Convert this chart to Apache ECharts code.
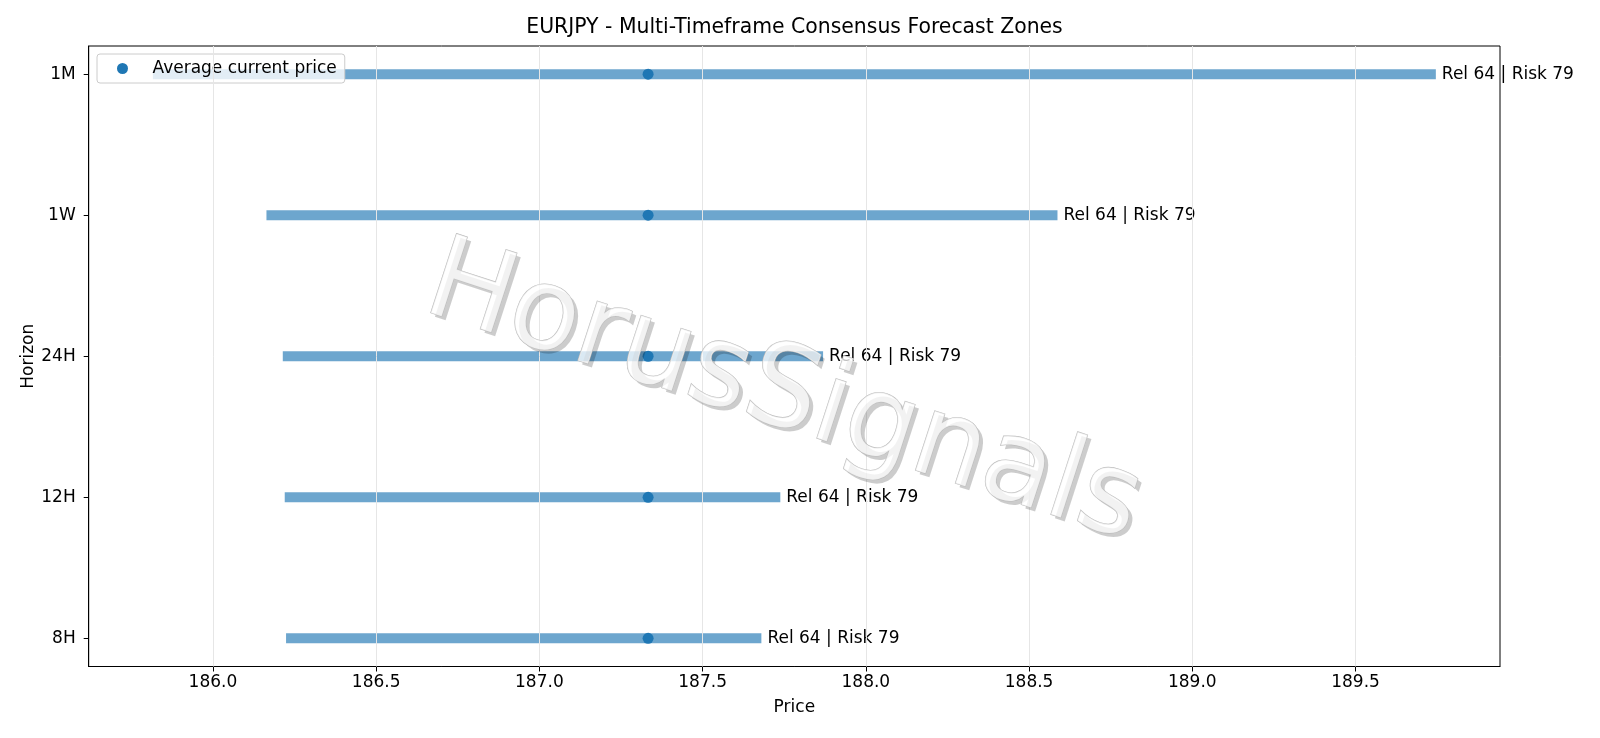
<!DOCTYPE html>
<html>
<head>
<meta charset="utf-8">
<title>EURJPY - Multi-Timeframe Consensus Forecast Zones</title>
<script src="https://cdn.jsdelivr.net/npm/echarts@6.0.0/dist/echarts.min.js"></script>
<style>
  html, body { margin: 0; padding: 0; background: #fff; }
  #chart { width: 1600px; height: 738px; }
</style>
</head>
<body>
<div id="chart"></div>
<script>
// horizons from bottom to top of the y axis
const horizons = ['8H', '12H', '24H', '1W', '1M'];
const zoneLow = [186.224, 186.220, 186.214, 186.164, 185.816];
const zoneHigh = [187.680, 187.738, 187.869, 188.587, 189.746];
const currentPrice = [187.333, 187.333, 187.333, 187.333, 187.333];
const zoneLabels = ['Rel 64 | Risk 79', 'Rel 64 | Risk 79', 'Rel 64 | Risk 79', 'Rel 64 | Risk 79', 'Rel 64 | Risk 79'];
const priceTicks = [186.0, 186.5, 187.0, 187.5, 188.0, 188.5, 189.0, 189.5];

const FONT = 'DejaVu Sans';
const FS = 17;
const BLUE = '#1f77b4';

// axis range with 5% margins around the zones
const lo = Math.min(...zoneLow);
const hi = Math.max(...zoneHigh);
const pad = (hi - lo) * 0.05;
const horizonIdx = horizons.map((h, i) => i);

const chart = echarts.init(document.getElementById('chart'), null, { renderer: 'canvas' });

const option = {
  animation: false,
  backgroundColor: '#fff',
  textStyle: { fontFamily: FONT },
  title: {
    text: 'EURJPY - Multi-Timeframe Consensus Forecast Zones',
    left: 794.5,
    top: 18,
    padding: 0,
    textAlign: 'center',
    textStyle: { fontFamily: FONT, fontSize: 20.4, fontWeight: 'normal', color: '#000' }
  },
  legend: {
    data: ['Average current price'],
    left: 97,
    top: 54,
    orient: 'vertical',
    padding: [6, 8, 6, 20],
    icon: 'circle',
    itemWidth: 22,
    itemHeight: 11,
    backgroundColor: 'rgba(255,255,255,0.8)',
    borderColor: '#cccccc',
    borderWidth: 1,
    borderRadius: 3,
    textStyle: { fontFamily: FONT, fontSize: FS, color: '#000', padding: [0, 0, 0, 14] }
  },
  grid: {
    left: 88.7,
    right: 100,
    top: 46,
    bottom: 71.5,
    show: true,
    borderColor: '#000',
    borderWidth: 1,
    backgroundColor: 'transparent'
  },
  xAxis: {
    type: 'value',
    min: lo - pad,
    max: hi + pad,
    name: 'Price',
    nameLocation: 'middle',
    nameGap: 33,
    nameTextStyle: { fontFamily: FONT, fontSize: FS, color: '#000' },
    axisLine: { show: true, onZero: false, lineStyle: { color: '#000', width: 1 } },
    axisTick: { show: true, length: 5, customValues: priceTicks, lineStyle: { color: '#000' } },
    axisLabel: {
      customValues: priceTicks,
      margin: 8,
      fontFamily: FONT,
      fontSize: FS,
      color: '#000',
      formatter: v => v.toFixed(1)
    },
    splitLine: { show: false }
  },
  yAxis: {
    type: 'value',
    min: -0.2,
    max: 4.2,
    name: 'Horizon',
    nameLocation: 'middle',
    nameRotate: 90,
    nameGap: 52,
    nameMoveOverlap: false,
    nameTextStyle: { fontFamily: FONT, fontSize: FS, color: '#000' },
    axisLine: { show: true, onZero: false, lineStyle: { color: '#000', width: 1 } },
    axisTick: { show: true, length: 5, customValues: horizonIdx, lineStyle: { color: '#000' } },
    axisLabel: {
      customValues: horizonIdx,
      margin: 13,
      fontFamily: FONT,
      fontSize: FS,
      color: '#000',
      formatter: v => horizons[Math.round(v)]
    },
    splitLine: { show: false }
  },
  series: [
    {
      // vertical grid lines
      name: 'grid',
      type: 'line',
      data: [],
      z: 1,
      silent: true,
      markLine: {
        silent: true,
        symbol: ['none', 'none'],
        label: { show: false },
        lineStyle: { color: '#e6e6e6', type: 'solid', width: 1 },
        data: priceTicks.map(v => ({ xAxis: v }))
      }
    },
    {
      name: 'zones',
      type: 'custom',
      z: 3,
      data: horizons.map((h, i) => [zoneLow[i], zoneHigh[i], i]),
      renderItem: function (params, api) {
        const start = api.coord([api.value(0), api.value(2)]);
        const end = api.coord([api.value(1), api.value(2)]);
        return {
          type: 'group',
          children: [
            {
              type: 'line',
              shape: { x1: start[0], y1: start[1], x2: end[0], y2: end[1] },
              style: { stroke: 'rgba(31,119,180,0.65)', lineWidth: 10, lineCap: 'butt' }
            },
            {
              type: 'text',
              x: end[0] + 6,
              y: end[1],
              style: {
                text: zoneLabels[params.dataIndex],
                fill: '#000',
                fontFamily: FONT,
                fontSize: FS,
                align: 'left',
                verticalAlign: 'middle'
              }
            }
          ]
        };
      }
    },
    {
      name: 'Average current price',
      type: 'scatter',
      z: 4,
      symbol: 'circle',
      symbolSize: 11,
      itemStyle: { color: BLUE, opacity: 1 },
      data: horizons.map((h, i) => [currentPrice[i], i])
    }
  ],
  graphic: [
    {
      type: 'text',
      z: 100,
      x: 787,
      y: 400,
      rotation: -18 * Math.PI / 180,
      silent: true,
      style: {
        text: 'HorusSignals',
        fontFamily: FONT,
        fontSize: 114,
        fill: 'rgba(0,0,0,0.2)',
        align: 'center',
        verticalAlign: 'middle'
      }
    },
    {
      type: 'text',
      z: 101,
      x: 783,
      y: 396,
      rotation: -18 * Math.PI / 180,
      silent: true,
      style: {
        text: 'HorusSignals',
        fontFamily: FONT,
        fontSize: 114,
        fill: 'rgba(255,255,255,0.75)',
        stroke: '#bdbdbd',
        lineWidth: 1.2,
        align: 'center',
        verticalAlign: 'middle'
      }
    }
  ]
};

chart.setOption(option);
</script>
</body>
</html>
